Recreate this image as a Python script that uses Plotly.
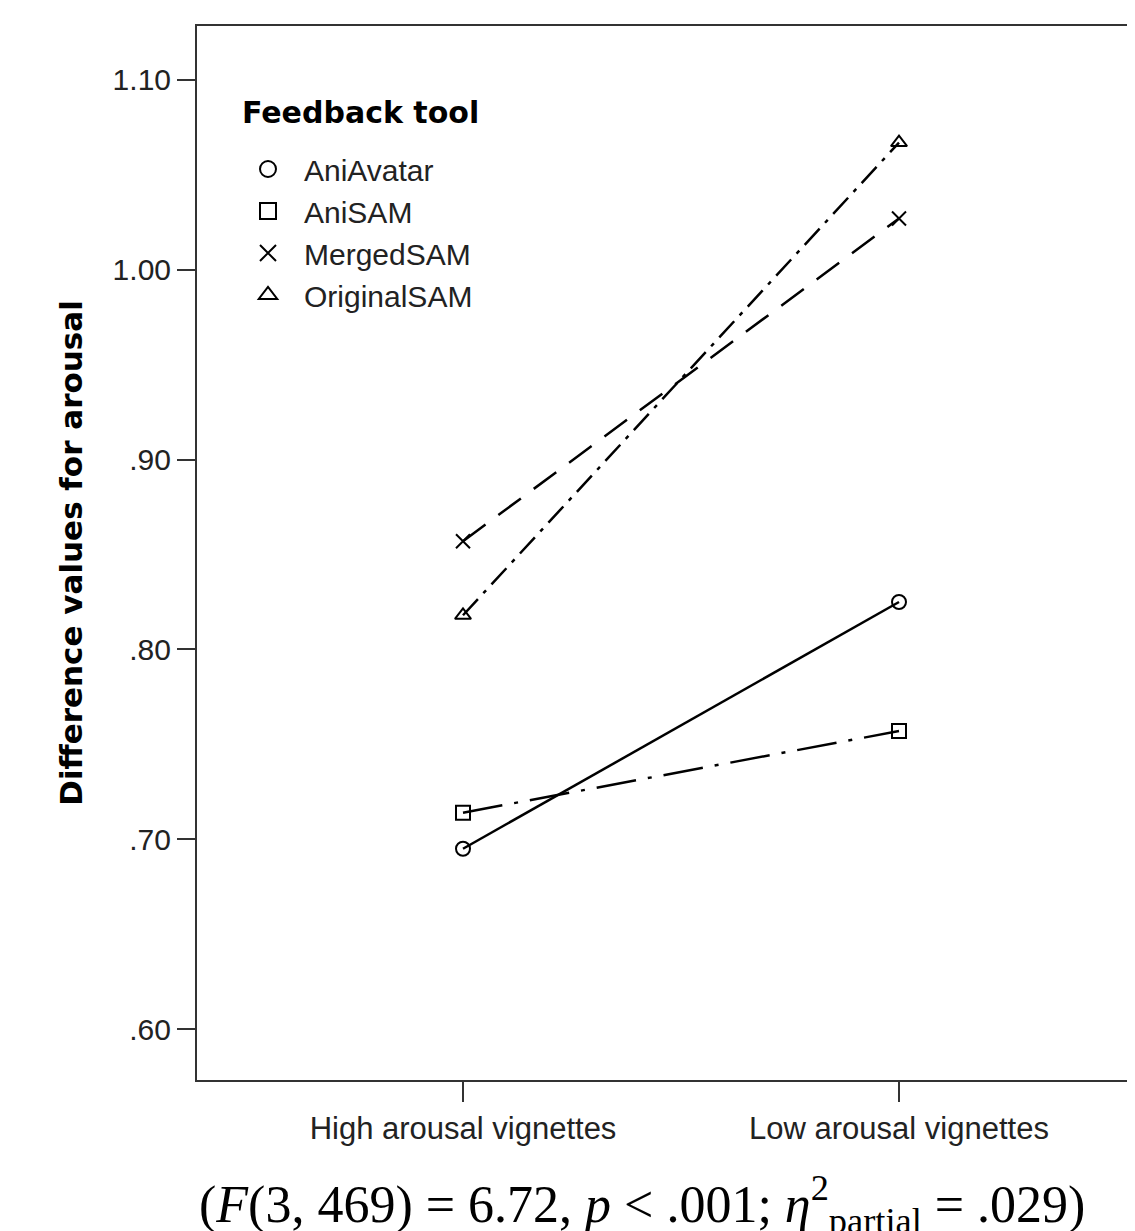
import plotly.graph_objects as go

categories = ["High arousal vignettes", "Low arousal vignettes"]
series_names = ["AniAvatar", "AniSAM", "MergedSAM", "OriginalSAM"]
ani_avatar = [0.695, 0.825]
ani_sam = [0.714, 0.757]
merged_sam = [0.857, 1.027]
original_sam = [0.818, 1.067]
y_ticks = [0.60, 0.70, 0.80, 0.90, 1.00, 1.10]
y_tick_labels = [".60", ".70", ".80", ".90", "1.00", "1.10"]

values = [ani_avatar, ani_sam, merged_sam, original_sam]
symbols = ["circle-open", "square-open", "x-thin-open", "triangle-up-open"]
dashes = ["solid", "40px,12px,4px,12px", "28px,16px", "22px,8px,4px,8px"]

W, H = 1135, 1231
OFF = 8  # page body margin
ML, MT, MB, MR = 197 - OFF, 26 - OFF, H - (1080 - OFF), 0
pw = W - ML - MR
ph = H - MT - MB
right_page = W + OFF


def px(xp):
    return (xp - OFF - ML) / pw


def py(yp):
    return 1 - (yp - OFF - MT) / ph


fig = go.Figure()

for name, vals, sym, dash in zip(series_names, values, symbols, dashes):
    fig.add_trace(go.Scatter(
        x=[0, 1], y=vals, mode="lines+markers", name=name, showlegend=False,
        line=dict(color="black", width=2.5, dash=dash),
        marker=dict(symbol=sym, size=14, color="black", line=dict(width=2, color="black")),
    ))
for name, sym in zip(series_names, symbols):
    fig.add_trace(go.Scatter(
        x=[None], y=[None], mode="markers", name=name, showlegend=True,
        marker=dict(symbol=sym, size=24, color="black", line=dict(width=2, color="black")),
    ))

fig.update_layout(
    width=W, height=H,
    margin=dict(l=ML, r=MR, t=MT, b=MB, pad=0),
    paper_bgcolor="white", plot_bgcolor="white",
    font=dict(family="Liberation Sans, Arial, sans-serif", color="#111", size=28),
    showlegend=True,
    legend=dict(
        x=px(232), y=py(143), xanchor="left", yanchor="top",
        bgcolor="rgba(0,0,0,0)", font=dict(size=30, color="#222"),
        itemsizing="trace", itemwidth=62, tracegroupgap=0,
    ),
    xaxis=dict(
        range=[-266 / 436, 1 + (right_page - 899) / 436],
        tickvals=[0, 1], ticktext=categories,
        ticks="outside", ticklen=20, tickwidth=2, tickcolor="#333",
        showline=True, linecolor="#333", linewidth=2, mirror=True,
        showgrid=False, zeroline=False,
        tickfont=dict(size=31, color="#222"),
    ),
    yaxis=dict(
        range=[0.5732, 1.1284],
        tickvals=y_ticks, ticktext=y_tick_labels,
        ticks="outside", ticklen=18, tickwidth=2, tickcolor="#333",
        showline=True, linecolor="#333", linewidth=2,
        showgrid=False, zeroline=False,
        tickfont=dict(size=30, color="#222"),
        title=dict(text="<b>Difference values for arousal</b>",
                   font=dict(family="DejaVu Sans, sans-serif", size=31, color="black"), standoff=21),
    ),
)

fig.add_annotation(
    text="<b>Feedback tool</b>",
    xref="paper", yref="paper", x=px(240), y=py(113),
    xanchor="left", yanchor="middle", showarrow=False,
    font=dict(family="DejaVu Sans, sans-serif", size=30, color="black"),
)

fig.add_annotation(
    text="(<i>F</i>(3, 469) = 6.72, <i>p</i> &lt; .001; <i>η</i><sup>2</sup><sub>partial</sub> = .029)",
    xref="paper", yref="paper", x=px(642), y=py(1166),
    xanchor="center", yanchor="top", showarrow=False,
    font=dict(family="Liberation Serif, Times New Roman, serif", size=52, color="black"),
)

fig.write_html("out.html")
